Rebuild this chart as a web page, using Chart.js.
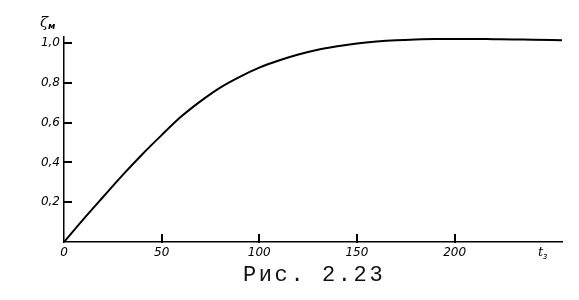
<!DOCTYPE html>
<html>
<head>
<meta charset="utf-8">
<script src="https://cdn.jsdelivr.net/npm/chart.js@4/dist/chart.umd.min.js"></script>
<style>
  html, body { margin: 0; padding: 0; background: #fff; }
  #wrap { position: relative; width: 579px; height: 300px; }
  #caption {
    position: absolute; left: 243px; top: 263px;
    font-family: "Liberation Mono", monospace; font-size: 22px;
    letter-spacing: 2.6px; color: #111; white-space: pre;
  }
</style>
</head>
<body>
<div id="wrap">
  <canvas id="chart" width="579" height="300"></canvas>
  <div id="caption">Рис. 2.23</div>
</div>
<script>
// values
const timeValues = [0, 10, 20, 30, 40, 50, 60, 70, 80, 90, 100, 110, 120, 130, 140, 150, 160, 170, 180, 190, 200, 210, 220, 230, 240, 255];
const zetaValues = [0, 0.115, 0.226, 0.336, 0.44, 0.537, 0.63, 0.708, 0.776, 0.83, 0.876, 0.912, 0.942, 0.966, 0.983, 0.997, 1.007, 1.014, 1.018, 1.02, 1.02, 1.02, 1.019, 1.018, 1.016, 1.014];
const xTickValues = [0, 50, 100, 150, 200];
const yTickValues = [0.2, 0.4, 0.6, 0.8, 1.0];

const tickFont = { family: "DejaVu Sans", size: 12, style: "italic" };

// inward tick marks + axis labels like the book figure
const axisMarks = {
  id: "axisMarks",
  afterDraw(chart) {
    const { ctx, chartArea, scales } = chart;
    ctx.save();
    ctx.strokeStyle = "#000";
    ctx.lineWidth = 2;
    yTickValues.forEach((v) => {
      const y = Math.round(scales.y.getPixelForValue(v));
      ctx.beginPath();
      ctx.moveTo(chartArea.left - 1, y);
      ctx.lineTo(chartArea.left + 8, y);
      ctx.stroke();
    });
    xTickValues.slice(1).forEach((v) => {
      const x = Math.round(scales.x.getPixelForValue(v));
      ctx.beginPath();
      ctx.moveTo(x, chartArea.bottom + 1);
      ctx.lineTo(x, chartArea.bottom - 8);
      ctx.stroke();
    });

    ctx.fillStyle = "#000";
    ctx.textBaseline = "alphabetic";
    ctx.font = "italic 15px 'DejaVu Serif'";
    ctx.fillText("ζ", 40, 27);
    ctx.font = "italic bold 9px 'DejaVu Sans'";
    ctx.fillText("м", 48, 29);

    ctx.font = "italic 13px 'DejaVu Serif'";
    ctx.fillText("t", 538, 256);
    ctx.font = "italic 8px 'DejaVu Sans'";
    ctx.fillText("з", 543, 259);
    ctx.restore();
  }
};

new Chart(document.getElementById("chart").getContext("2d"), {
  type: "line",
  data: {
    labels: timeValues,
    datasets: [{
      data: timeValues.map((t, i) => ({ x: t, y: zetaValues[i] })),
      borderColor: "#000",
      borderWidth: 2,
      pointRadius: 0,
      cubicInterpolationMode: "monotone",
      fill: false
    }]
  },
  options: {
    responsive: false,
    animation: false,
    layout: { padding: { left: 0, top: 37, right: 17, bottom: 0 } },
    plugins: { legend: { display: false }, tooltip: { enabled: false } },
    scales: {
      x: {
        type: "linear",
        min: 0,
        max: 255,
        afterBuildTicks: (s) => { s.ticks = xTickValues.map((v) => ({ value: v })); },
        afterFit: (s) => { s.height = 58; },
        grid: { display: false, drawTicks: false },
        border: { display: true, color: "#000", width: 1.5 },
        ticks: { color: "#000", font: tickFont, padding: 4, maxRotation: 0 }
      },
      y: {
        min: 0,
        max: 1.03,
        afterBuildTicks: (s) => { s.ticks = yTickValues.map((v) => ({ value: v })); },
        afterFit: (s) => { s.width = 64; },
        grid: { display: false, drawTicks: false },
        border: { display: true, color: "#000", width: 1.5 },
        ticks: {
          color: "#000",
          font: tickFont,
          padding: 4,
          callback: (v) => v.toFixed(1).replace(".", ",")
        }
      }
    }
  },
  plugins: [axisMarks]
});
</script>
</body>
</html>
